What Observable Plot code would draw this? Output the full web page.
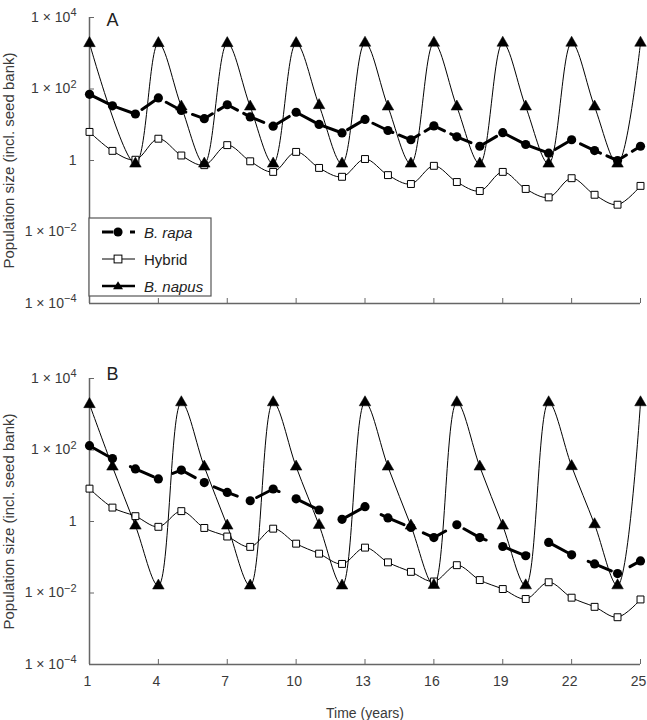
<!DOCTYPE html>
<html><head><meta charset="utf-8">
<script src="https://cdn.jsdelivr.net/npm/d3@7"></script>
<script src="https://cdn.jsdelivr.net/npm/@observablehq/plot@0.6"></script>
<style>
body{margin:0;background:#fff;}
#wrap{position:relative;width:647px;height:720px;font-family:"Liberation Sans",Arial,sans-serif;}
#wrap svg.plot{display:block;}
#legend{position:absolute;left:88px;top:217px;}
</style></head><body><div id="wrap"></div>
<script>
// ---- data ----
const years = [1,2,3,4,5,6,7,8,9,10,11,12,13,14,15,16,17,18,19,20,21,22,23,24,25];
const xTicks = [1,4,7,10,13,16,19,22,25];
const yTicks = [1e-4,1e-2,1,1e2,1e4];
const xDomain = [1,25];
const yDomain = [1e-4,1e4];
const seriesNames = ["B. rapa","Hybrid","B. napus"];

// Panel A
const rapaA   = [70.8,33.9,20.0,56.2,25.1,14.8,36.3,16.6,9.1,22.4,10.2,5.9,14.1,6.9,3.8,9.3,4.6,2.5,6.0,2.8,1.6,3.8,1.9,1.0,2.5];
const hybridA = [6.3,1.86,1.05,4.07,1.38,0.74,2.69,0.95,0.48,1.74,0.62,0.35,1.10,0.39,0.22,0.71,0.25,0.14,0.48,0.16,0.093,0.32,0.11,0.058,0.195];
const napusA  = [1900,null,0.81,1900,32,0.81,1900,32,0.81,1900,35,0.81,1950,32,0.81,1950,32,0.81,1950,32,0.81,1950,32,0.81,1950];

// Panel B
const rapaB   = [132,57.5,29.5,15.5,27.5,12.3,6.5,3.8,8.1,4.3,2.1,1.15,2.6,1.26,0.68,0.355,0.81,0.355,0.20,0.11,0.26,0.117,0.065,0.035,0.079];
const hybridB = [8.3,2.45,1.41,0.71,1.95,0.66,0.38,0.195,0.63,0.24,0.126,0.065,0.186,0.072,0.039,0.021,0.060,0.023,0.0129,0.0068,0.020,0.0074,0.0041,0.0021,0.0066];
const napusB  = [1900,34,0.76,0.016,2140,34,0.76,0.016,2140,34,0.79,0.016,2140,34,0.76,0.0166,2140,34,0.76,0.0162,2140,35,0.83,0.0162,2140];

const toRows = arr => years.map((t,i)=>({t, v: arr[i]})).filter(d => d.v != null);
const fmtY = d => d === 1 ? "1" : "1 × 10^" + Math.round(Math.log10(d));

function panel({rapa, hybrid, napus, letter, height, marginTop, marginBottom, xLabels, dash, letterDy}) {
  const R = toRows(rapa), H = toRows(hybrid), N = toRows(napus);
  const svg = Plot.plot({
    width: 647, height, marginLeft: 89, marginRight: 7, marginTop, marginBottom,
    style: {fontFamily: '"Liberation Sans", Arial, sans-serif', color: "#3a3a3a", background: "white"},
    x: {type: "linear", domain: xDomain},
    y: {type: "log", domain: yDomain},
    marks: [
      Plot.ruleX([xDomain[0]], {stroke: "#666", strokeWidth: 1.5}),
      Plot.ruleY([yDomain[0]], {stroke: "#666", strokeWidth: 1.5}),
      Plot.axisY({ticks: yTicks, tickSize: -5, stroke: "#666", tickFormat: () => "", label: null}),
      Plot.axisY({ticks: yTicks, tickSize: 0, tickPadding: 13, tickFormat: fmtY, fontSize: 14,
                  label: "Population size (incl. seed bank)", labelAnchor: "center", labelOffset: 86, labelArrow: "none"}),
      Plot.axisX({ticks: xTicks, tickSize: -5, stroke: "#666", tickFormat: () => "", label: null}),
      xLabels
        ? Plot.axisX({ticks: xTicks, tickSize: 0, tickPadding: 12, dx: -2, fontSize: 14, tickFormat: d => String(d),
                      label: "Time (years)", labelAnchor: "center", labelOffset: 53, labelArrow: "none"})
        : null,
      Plot.line(N, {x: "t", y: "v", curve: "catmull-rom", stroke: "black", strokeWidth: 1}),
      Plot.line(H, {x: "t", y: "v", curve: "catmull-rom", stroke: "black", strokeWidth: 1}),
      Plot.line(R, {x: "t", y: "v", stroke: "black", strokeWidth: 3, strokeDasharray: dash}),
      Plot.dot(H, {x: "t", y: "v", symbol: "square", r: 3.9, fill: "white", stroke: "black", strokeWidth: 1}),
      Plot.dot(N, {x: "t", y: "v", symbol: "triangle", r: 4.3, fill: "black", stroke: "black", strokeWidth: 0.5}),
      Plot.dot(R, {x: "t", y: "v", symbol: "circle", r: 4.6, fill: "black", stroke: "none"}),
      Plot.text([letter], {frameAnchor: "top-left", dx: 17, dy: letterDy, fontSize: 18, textAnchor: "start", fill: "#222"})
    ]
  });
  svg.classList.add("plot");
  // superscript exponents in y tick labels
  svg.querySelectorAll('g[aria-label="y-axis tick label"] text').forEach(t => {
    const c = t.textContent;
    if (c.includes("^")) {
      const [base, ex] = c.split("^");
      t.textContent = "";
      const a = document.createElementNS("http://www.w3.org/2000/svg", "tspan");
      a.textContent = base;
      const b = document.createElementNS("http://www.w3.org/2000/svg", "tspan");
      b.textContent = ex.replace("-", "\u2212");
      b.setAttribute("font-size", "11");
      b.setAttribute("dy", "-0.5em");
      t.appendChild(a); t.appendChild(b);
    }
  });
  svg.querySelectorAll('g[aria-label="y-axis label"]').forEach(g => g.setAttribute("font-size", "15"));
  return svg;
}

const wrap = document.getElementById("wrap");
wrap.appendChild(panel({rapa: rapaA, hybrid: hybridA, napus: napusA, letter: "A", height: 320, marginTop: 17, marginBottom: 17, xLabels: false, dash: "22,7", letterDy: -4}));
wrap.appendChild(panel({rapa: rapaB, hybrid: hybridB, napus: napusB, letter: "B", height: 400, marginTop: 58, marginBottom: 56, xLabels: true, dash: "25,21", letterDy: -11}));

// legend (decoration, drawn in plain SVG)
const ns = "http://www.w3.org/2000/svg";
const lg = document.createElementNS(ns, "svg");
lg.setAttribute("id", "legend");
lg.setAttribute("width", 126); lg.setAttribute("height", 82);
lg.innerHTML = `
  <rect x="1" y="1" width="122" height="78" fill="white" stroke="#555" stroke-width="1.2"/>
  <g stroke="black" fill="none">
    <line x1="14" x2="25" y1="15" y2="15" stroke-width="3"/>
    <line x1="42" x2="47" y1="15" y2="15" stroke-width="3"/>
    <line x1="14" x2="47" y1="42" y2="42" stroke-width="1"/>
    <line x1="14" x2="47" y1="69" y2="69" stroke-width="2.5"/>
  </g>
  <circle cx="30" cy="15" r="4.6" fill="black"/>
  <rect x="26.1" y="38.1" width="7.8" height="7.8" fill="white" stroke="black" stroke-width="1"/>
  <path d="M30,64.2L35,72.2L25,72.2Z" fill="black"/>
  <g font-family='"Liberation Sans", Arial, sans-serif' font-size="15" fill="#222" dominant-baseline="central">
    <text x="56" y="15" font-style="italic">${seriesNames[0]}</text>
    <text x="56" y="42">${seriesNames[1]}</text>
    <text x="56" y="69" font-style="italic">${seriesNames[2]}</text>
  </g>`;
wrap.appendChild(lg);
</script>
</body></html>
